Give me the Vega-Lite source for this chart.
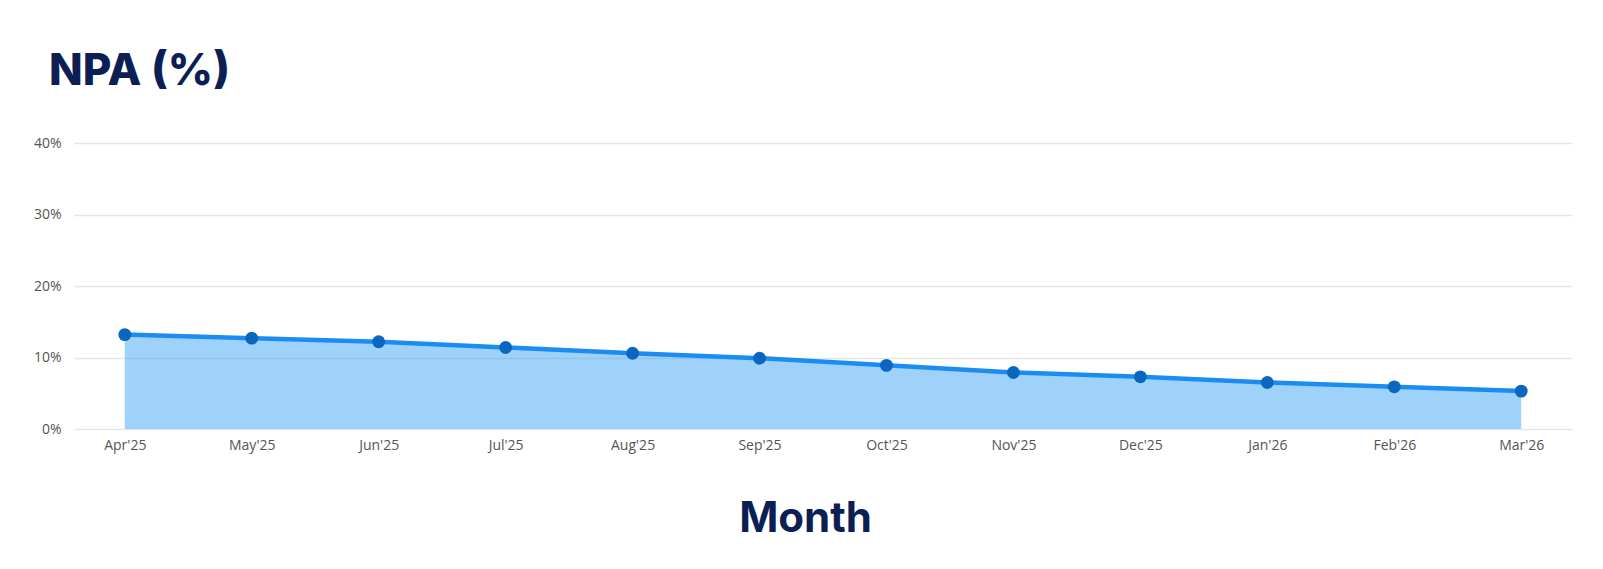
{
  "$schema": "https://vega.github.io/schema/vega-lite/v6.json",
  "width": 1498,
  "height": 286,
  "autosize": "none",
  "padding": {"left": 74, "top": 143, "right": 31, "bottom": 140},
  "background": "white",
  "title": {
    "text": "NPA (%)",
    "anchor": "start",
    "frame": "group",
    "dx": -25,
    "offset": 42,
    "font": "Inter",
    "fontSize": 44,
    "fontWeight": 800,
    "color": "#0c1f55"
  },
  "data": {
    "values": [
      {"month": "Apr'25", "npa": 13.2},
      {"month": "May'25", "npa": 12.7},
      {"month": "Jun'25", "npa": 12.2},
      {"month": "Jul'25", "npa": 11.4},
      {"month": "Aug'25", "npa": 10.6},
      {"month": "Sep'25", "npa": 9.9},
      {"month": "Oct'25", "npa": 8.9},
      {"month": "Nov'25", "npa": 7.9},
      {"month": "Dec'25", "npa": 7.3},
      {"month": "Jan'26", "npa": 6.5},
      {"month": "Feb'26", "npa": 5.9},
      {"month": "Mar'26", "npa": 5.3}
    ]
  },
  "encoding": {
    "x": {
      "field": "month",
      "type": "ordinal",
      "sort": null,
      "scale": {"type": "point", "padding": 0.4},
      "axis": {
        "title": "Month",
        "titleFont": "Inter",
        "titleFontSize": 42,
        "titleFontWeight": 700,
        "titleColor": "#0c1f55",
        "titleX": 731,
        "titleY": 102,
        "titleBaseline": "alphabetic",
        "labelAngle": 0,
        "labelFont": "Open Sans",
        "labelFontSize": 14,
        "labelColor": "#555555",
        "labelPadding": 9,
        "ticks": false,
        "domain": false,
        "grid": false
      }
    },
    "y": {
      "field": "npa",
      "type": "quantitative",
      "scale": {"domain": [0, 40]},
      "axis": {
        "title": null,
        "values": [0, 10, 20, 30, 40],
        "labelExpr": "datum.value + '%'",
        "labelFont": "Open Sans",
        "labelFontSize": 14,
        "labelColor": "#555555",
        "labelPadding": 13,
        "ticks": false,
        "domain": false,
        "grid": true,
        "gridColor": "#e6e6e6",
        "gridWidth": 1.5
      }
    }
  },
  "layer": [
    {"mark": {"type": "area", "color": "#2196f3", "opacity": 0.43}},
    {"mark": {"type": "line", "color": "#1a8cf2", "strokeWidth": 4.5}},
    {"mark": {"type": "point", "filled": true, "color": "#0b66c0", "size": 165, "opacity": 1}}
  ],
  "config": {"view": {"stroke": null}}
}
